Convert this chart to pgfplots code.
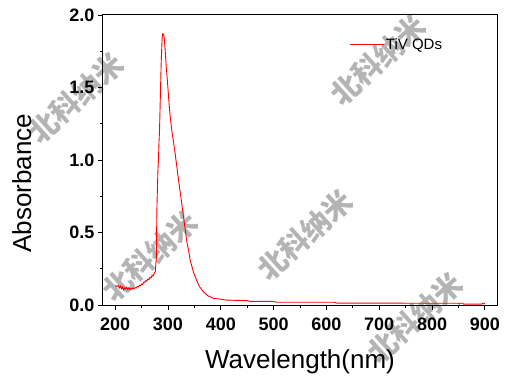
\documentclass[border=0pt]{standalone}
\usepackage{fontspec}
\setmainfont{Liberation Sans}
\newfontfamily\cjk{Noto Sans CJK SC}
\usepackage{pgfplots}
\pgfplotsset{compat=1.18}
\definecolor{wm}{RGB}{180,180,180}
\begin{document}
\begin{tikzpicture}[x=1pt,y=1pt]
\useasboundingbox (-103,-73) rectangle (402,305);
% watermarks
\foreach \px/\py in {76/98, 378/60, 150/256, 305/235, 415/318}{
  \node[rotate=42, text=wm, font=\cjk\bfseries\fontsize{29}{29}\selectfont, inner sep=0pt]
    at (\px-103, 305-\py) {北科纳米};
}
\begin{axis}[
  at={(0,0)}, anchor=south west,
  scale only axis, width=394pt, height=290pt,
  xmin=177, xmax=923, ymin=0, ymax=2.0,
  xtick={200,300,...,900}, ytick={0,0.5,...,2.0},
  minor x tick num=1, minor y tick num=1,
  xtick pos=left, ytick pos=left,
  tick align=outside,
  major tick length=5pt, minor tick length=3pt,
  axis line style={line width=1pt, black},
  every tick/.style={black, line width=0.8pt},
  /pgf/number format/assume math mode=true,
  ticklabel style={font=\bfseries\fontsize{18}{18}\selectfont},
  yticklabel style={/pgf/number format/.cd, fixed, fixed zerofill, precision=1},
  xticklabel style={yshift=-4pt, /pgf/number format/.cd, fixed, precision=0, 1000 sep={}},
  legend style={draw=none, fill=none, at={(0.624,0.897)}, anchor=west,
    font=\fontsize{15}{15}\selectfont, inner sep=0pt},
  legend image code/.code={\draw[#1] (0pt,0pt) -- (34pt,0pt);},
]
\addplot[red, line width=0.9pt] coordinates {
(200,0.133) (203,0.128) (206,0.135) (208,0.118) (210,0.130) (212,0.112)
(214,0.125) (216,0.105) (218,0.118) (220,0.110) (222,0.122) (224,0.106)
(226,0.118) (228,0.108) (230,0.115) (232,0.110) (234,0.118) (236,0.112)
(238,0.120) (240,0.118) (242,0.128) (244,0.125) (246,0.135) (248,0.132)
(250,0.145) (252,0.142) (254,0.158) (256,0.155) (258,0.168) (260,0.165)
(262,0.180) (264,0.176) (266,0.190) (268,0.188) (270,0.205) (272,0.200)
(274,0.218) (276,0.230) (277,0.280) (278,0.320) (279,0.650) (280,0.800)
(281,0.930) (282,1.000) (283,1.120) (284,1.200) (285,1.350) (286,1.500)
(287,1.650) (288,1.750) (289,1.840) (290,1.870) (291,1.870) (292.5,1.855)
(294.5,1.770) (296.5,1.655) (298.5,1.566) (300.5,1.469) (302,1.393)
(304,1.310) (306,1.241) (308,1.186) (313.5,1.048) (320,0.862) (326,0.703)
(332,0.538) (336,0.430) (339,0.379) (342,0.310) (348,0.230) (354,0.172)
(360,0.125) (367,0.092) (375,0.065) (386,0.046) (400,0.040) (411,0.034)
(450,0.030) (455,0.025) (500,0.025) (505,0.019) (615,0.019) (620,0.013)
(850,0.012) (852,0.007) (854,0.012) (858,0.012) (860,0.006) (894,0.006)
(896,0.012) (898,0.008) (900,0.010)
};
\addlegendentry{TiV QDs}
\end{axis}
\node[rotate=90, anchor=base, font=\fontsize{26}{26}\selectfont] at (-72,122) {Absorbance};
\node[anchor=base, font=\fontsize{26}{26}\selectfont] at (197,-63) {Wavelength(nm)};
\end{tikzpicture}
\end{document}
